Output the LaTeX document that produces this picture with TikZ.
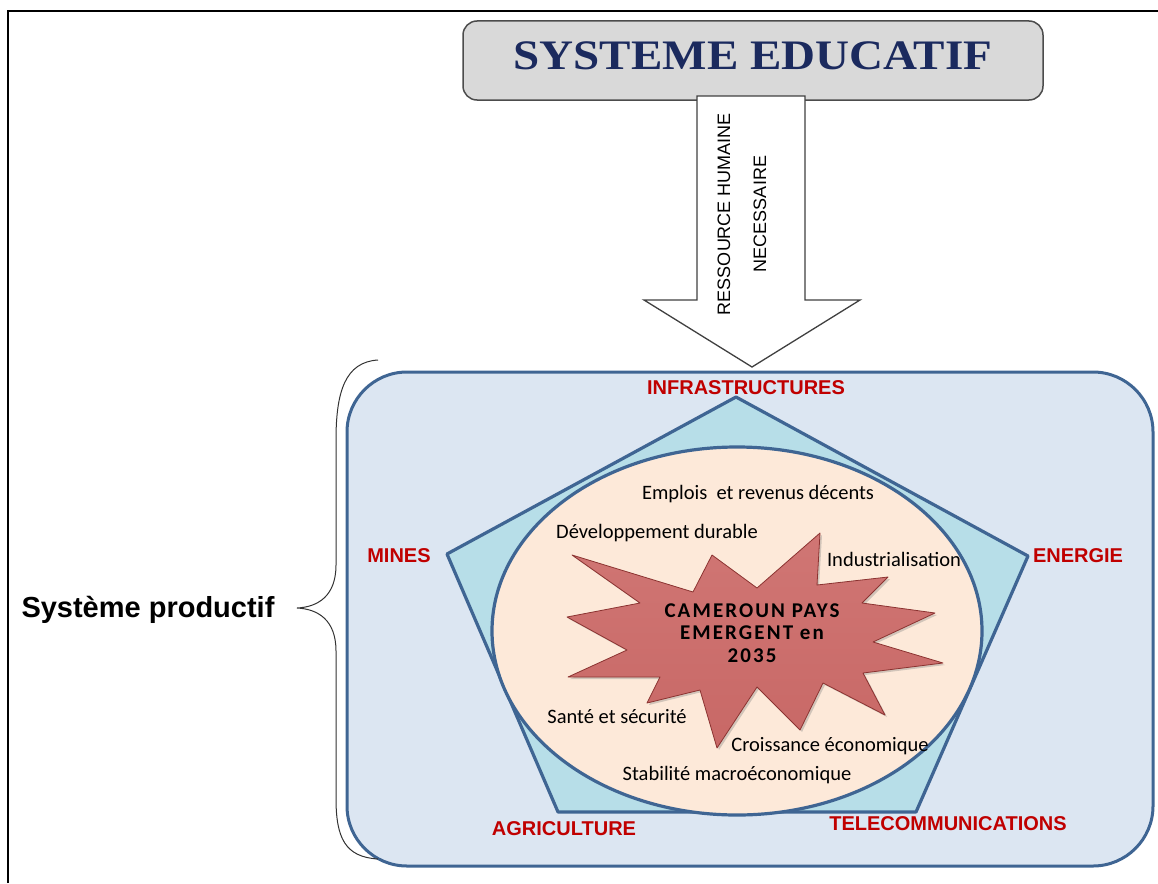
\documentclass[tikz,border=0pt]{standalone}
\usepackage{fontspec}
\setmainfont{Carlito}
\newfontfamily\titlefont{Liberation Serif}
\newfontfamily\arialfont{Liberation Sans}
\newfontfamily\starfont[LetterSpace=10]{Carlito}
\usetikzlibrary{shadows}
\definecolor{bordblue}{RGB}{63,101,147}
\definecolor{lightblue}{RGB}{220,230,242}
\definecolor{cyanfill}{RGB}{183,222,232}
\definecolor{peach}{RGB}{253,233,217}
\definecolor{darkred}{RGB}{192,0,0}
\definecolor{navy}{RGB}{27,42,94}
\definecolor{boxgray}{RGB}{217,217,217}
\definecolor{starlight}{RGB}{208,118,116}
\definecolor{starred}{RGB}{186,68,65}
\definecolor{starlow}{RGB}{200,104,102}
\begin{document}
\begin{tikzpicture}[x=1pt,y=-1pt,
  secteur/.style={font=\arialfont\bfseries\fontsize{20}{24}\selectfont,text=darkred},
  objectif/.style={font=\fontsize{20.5}{24}\selectfont,text=black}]
\useasboundingbox (0,0) rectangle (1158,883);
%\draw[very thin,color=gray,step=50] (0,0) grid (1158,883);
\draw[line width=2] (8,883) -- (8,11) -- (1158,11);
\node[draw=black!70,fill=boxgray,line width=1.5,rounded corners=14,minimum width=580,minimum height=79] (edu) at (753,60.5) {};
\node[anchor=base,text=navy,font=\titlefont\bfseries\fontsize{42}{42}\selectfont] (titre) at (753,70) {\scalebox{1.12}[1]{SYSTEME EDUCATIF}};
\draw[fill=white,draw=black!75,line width=1.3] (697,96) -- (805,96) -- (805,300) -- (860,300) -- (752,367) -- (644,300) -- (697,300) -- cycle;
\node[rotate=90,align=center,font=\arialfont\fontsize{18}{36}\selectfont] (ress) at (742,214) {RESSOURCE HUMAINE\\NECESSAIRE};
\node[draw=bordblue,fill=lightblue,line width=3,rounded corners=60,minimum width=806,minimum height=494] (prod) at (750,619) {};
\draw[draw=bordblue,fill=cyanfill,line width=3.2,line join=round] (736,397) coordinate (pI) -- (1028,556) coordinate (pE) -- (916,812) coordinate (pT) -- (558,812) coordinate (pA) -- (447,554) coordinate (pM) -- cycle;
\draw[draw=bordblue,fill=peach,line width=3.2] (737,631) ellipse [x radius=245,y radius=184];
\draw[draw=starred!75!black,line width=0.8,line join=round,top color=starlight,middle color=starred,bottom color=starlow,drop shadow={opacity=0.35,shadow xshift=2pt,shadow yshift=-2pt}] (572,555) -- (693,592) -- (712,555) -- (757,588) -- (820,533) -- (817,585) -- (888,577) -- (862,603) -- (935,613) -- (873,642) -- (943,663) -- (863,673) -- (885,715) -- (823,683) -- (800,730) -- (757,687) -- (717,748) -- (700,690) -- (647,703) -- (660,677) -- (568,677) -- (627,650) -- (567,617) -- (640,603) -- cycle;
\node[align=center,font=\starfont\bfseries\fontsize{21}{22.5}\selectfont,text=black] (cam) at (752,633) {CAMEROUN PAYS\\EMERGENT en\\2035};
\node[objectif] (emp) at (758,494) {Emplois~ et revenus décents};
\node[objectif] (dev) at (657,533) {Développement durable};
\node[objectif] (ind) at (894,559) {Industrialisation};
\node[objectif] (san) at (617,717) {Santé et sécurité};
\node[objectif] (cro) at (830,746) {Croissance économique};
\node[objectif] (sta) at (737,775) {Stabilité macroéconomique};
\node[secteur] (infra) at (746,388) {INFRASTRUCTURES};
\node[secteur] (mines) at (399,556) {MINES};
\node[secteur] (ener) at (1078,556) {ENERGIE};
\node[secteur] (agri) at (564,829) {AGRICULTURE};
\node[secteur] (tele) at (948,824) {TELECOMMUNICATIONS};
\node[font=\arialfont\bfseries\fontsize{29}{32}\selectfont] (sys) at (148,610) {Système productif};
\draw[line width=1,black!80] (378,360) .. controls (345,362) and (336,392) .. (336,440) -- (336,565) .. controls (336,596) and (318,607) .. (297,608) .. controls (318,609) and (336,620) .. (336,651) -- (336,798) .. controls (336,838) and (345,857) .. (378,859);
\end{tikzpicture}
\end{document}
